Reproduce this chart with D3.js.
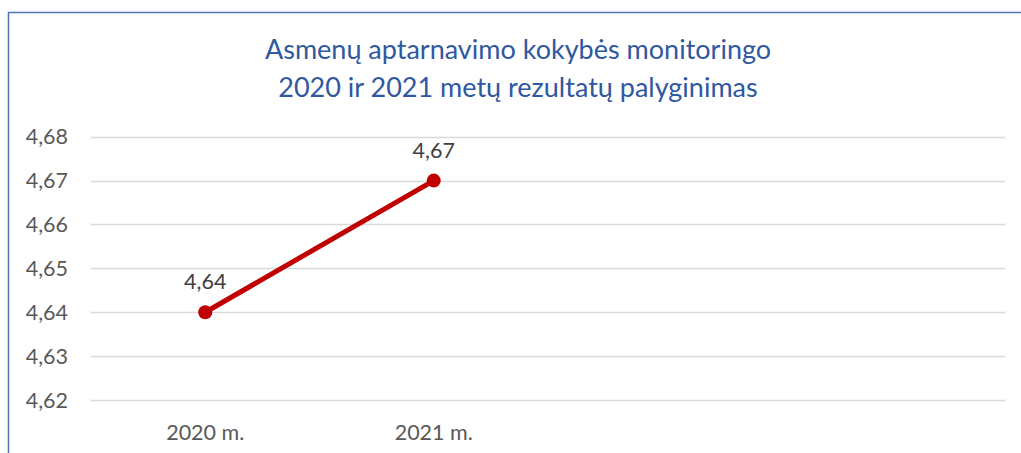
<!DOCTYPE html>
<html>
<head>
<meta charset="utf-8">
<script src="https://cdn.jsdelivr.net/npm/d3@7"></script>
<style>
  body { margin: 0; background: #fff; }
  svg { display: block; font-family: Lato, "Open Sans", sans-serif; }
</style>
</head>
<body>
<svg id="chart" width="1021" height="453"></svg>
<script>
const titleLines = ["Asmenų aptarnavimo kokybės monitoringo", "2020 ir 2021 metų rezultatų palyginimas"];
const slots = ["2020 m.", "2021 m.", "s3", "s4"];
const years = ["2020 m.", "2021 m."];
const values = [4.64, 4.67];
const yTicks = [4.62, 4.63, 4.64, 4.65, 4.66, 4.67, 4.68];

const svg = d3.select("#chart");
const plotL = 91, plotR = 1005, plotT = 136.7, plotB = 400;

// frame (cropped box)
svg.append("path")
    .attr("d", "M8.5,453 V12.5 H1021")
    .attr("fill", "none")
    .attr("stroke", "#4f74bb")
    .attr("stroke-width", 1.5);

const x = d3.scaleBand().domain(slots).range([plotL, plotR]);
const y = d3.scaleLinear().domain([4.62, 4.68]).range([plotB, plotT]);
const fmt = v => d3.format(".2f")(v).replace(".", ",");
const cx = d => x(d) + x.bandwidth() / 2;

// grid
svg.append("g").selectAll("line")
    .data(yTicks)
    .enter().append("line")
    .attr("x1", plotL).attr("x2", plotR)
    .attr("y1", d => Math.round(y(d)) + 0.5)
    .attr("y2", d => Math.round(y(d)) + 0.5)
    .attr("stroke", "#d9d9d9")
    .attr("stroke-width", 1.5);

// y labels
svg.append("g").selectAll("text")
    .data(yTicks)
    .enter().append("text")
    .attr("x", 68)
    .attr("y", d => y(d) + 7.5)
    .attr("text-anchor", "end")
    .attr("fill", "#595959")
    .attr("font-size", 21.5)
    .text(fmt);

// x labels
svg.append("g").selectAll("text")
    .data(years)
    .enter().append("text")
    .attr("x", cx)
    .attr("y", 440)
    .attr("text-anchor", "middle")
    .attr("fill", "#595959")
    .attr("font-size", 21.5)
    .text(d => d);

// title
svg.append("g").selectAll("text")
    .data(titleLines)
    .enter().append("text")
    .attr("x", 518)
    .attr("y", (d, i) => 59 + i * 38)
    .attr("text-anchor", "middle")
    .attr("fill", "#2f58a0")
    .attr("font-size", 27)
    .text(d => d);

const pts = years.map((c, i) => ({ c: c, v: values[i] }));

svg.append("path")
    .datum(pts)
    .attr("fill", "none")
    .attr("stroke", "#c00000")
    .attr("stroke-width", 5)
    .attr("d", d3.line().x(d => cx(d.c)).y(d => y(d.v)));

svg.append("g").selectAll("circle")
    .data(pts)
    .enter().append("circle")
    .attr("cx", d => cx(d.c))
    .attr("cy", d => y(d.v))
    .attr("r", 7)
    .attr("fill", "#c00000");

svg.append("g").selectAll("text")
    .data(pts)
    .enter().append("text")
    .attr("x", d => cx(d.c))
    .attr("y", d => y(d.v) - 23)
    .attr("text-anchor", "middle")
    .attr("fill", "#404040")
    .attr("font-size", 21.5)
    .text(d => fmt(d.v));
</script>
</body>
</html>
